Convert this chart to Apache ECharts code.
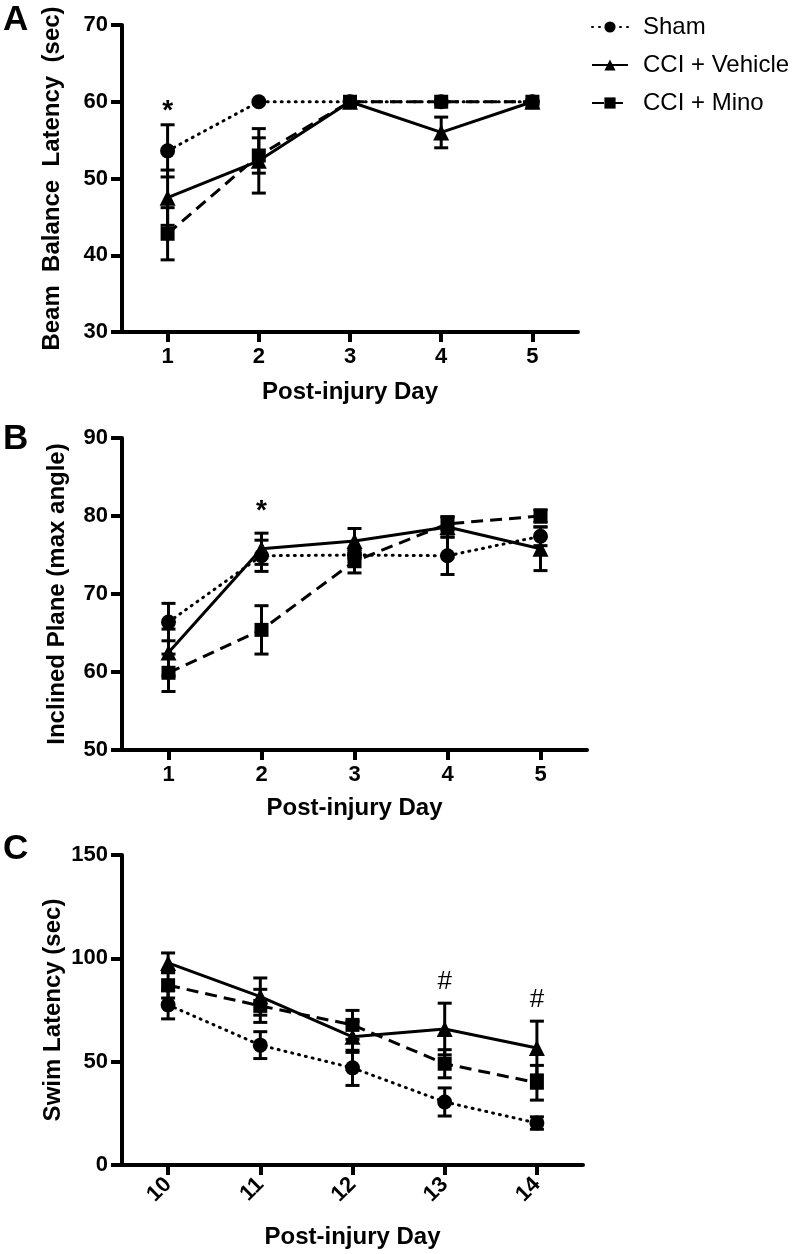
<!DOCTYPE html>
<html>
<head>
<meta charset="utf-8">
<script src="https://cdn.jsdelivr.net/npm/echarts@6/dist/echarts.min.js"></script>
<style>
html,body{margin:0;padding:0;background:#fff;}
#chart{width:792px;height:1254px;}
</style>
</head>
<body>
<div id="chart"></div>
<script>
// ---------- data ----------
const seriesNames = ['Sham', 'CCI + Vehicle', 'CCI + Mino'];

// Panel A: beam balance
const daysA = ['1', '2', '3', '4', '5'];
const shamA = [53.6, 60, 60, 60, 60];
const shamA_sem = [3.4, 0, 0, 0, 0];
const vehA = [47.5, 52.3, 60, 56, 60];
const vehA_sem = [3.6, 4.2, 0, 2.0, 0];
const minoA = [42.8, 53.0, 60, 60, 60];
const minoA_sem = [3.4, 2.3, 0, 0, 0];
const annotA = [[0, 58.8, '*']];

// Panel B: inclined plane
const daysB = ['1', '2', '3', '4', '5'];
const shamB = [66.4, 74.9, 75, 74.9, 77.4];
const shamB_sem = [2.4, 2.0, 0.5, 2.4, 1.2];
const vehB = [62.5, 75.8, 76.8, 78.6, 75.8];
const vehB_sem = [3.0, 2.0, 1.6, 1.3, 2.8];
const minoB = [59.9, 65.4, 74.2, 79.0, 80.0];
const minoB_sem = [2.4, 3.1, 1.5, 0.9, 0.8];
const annotB = [[1, 80.6, '*']];

// Panel C: swim latency
const daysC = ['10', '11', '12', '13', '14'];
const shamC = [77.5, 58.0, 47.0, 30.5, 20.3];
const shamC_sem = [6.8, 6.5, 8.5, 6.8, 3.0];
const vehC = [97.8, 81.5, 62.0, 65.8, 56.6];
const vehC_sem = [4.8, 9.0, 7.5, 12.5, 13.0];
const minoC = [87.0, 77.0, 67.8, 49.0, 39.8];
const minoC_sem = [6.2, 8.0, 7.0, 6.8, 8.4];
const annotC = [[3, 88.6, '#'], [4, 79.9, '#']];

// ---------- styling ----------
const FONT = '"Liberation Sans", Arial, Helvetica, sans-serif';
const BLACK = '#000';
const styles = {
  'Sham': { symbol: 'circle', symbolSize: 15, lineType: [1, 6], cap: 'round' },
  'CCI + Vehicle': { symbol: 'triangle', symbolSize: 16, lineType: 'solid', cap: 'butt' },
  'CCI + Mino': { symbol: 'rect', symbolSize: 14, lineType: [12, 7], cap: 'butt' }
};

const chart = echarts.init(document.getElementById('chart'), null, { renderer: 'canvas' });

const grids = [
  { left: 122, top: 25, width: 456, height: 307 },
  { left: 122, top: 438, width: 465, height: 312 },
  { left: 122, top: 855, width: 461, height: 310 }
];

function xAxisFor(idx, days, rotate, nameGap, margin) {
  return {
    type: 'category', gridIndex: idx, data: days, boundaryGap: true,
    name: 'Post-injury Day', nameLocation: 'middle', nameGap: nameGap,
    nameTextStyle: { fontFamily: FONT, fontWeight: 'bold', fontSize: 24, color: BLACK },
    axisLine: { show: true, onZero: false, lineStyle: { color: BLACK, width: 4 } },
    axisTick: { show: true, alignWithLabel: true, length: 10, lineStyle: { color: BLACK, width: 4 } },
    axisLabel: { fontFamily: FONT, fontWeight: 'bold', fontSize: 22, color: BLACK, margin: margin, rotate: rotate, interval: 0 },
    splitLine: { show: false }
  };
}
function yAxisFor(idx, name, min, max, interval, nameGap) {
  return {
    type: 'value', gridIndex: idx, min: min, max: max, interval: interval,
    name: name, nameLocation: 'middle', nameGap: nameGap, nameMoveOverlap: false,
    nameTextStyle: { fontFamily: FONT, fontWeight: 'bold', fontSize: 24, color: BLACK },
    axisLine: { show: true, lineStyle: { color: BLACK, width: 4 } },
    axisTick: { show: true, length: 11, lineStyle: { color: BLACK, width: 4 } },
    axisLabel: { fontFamily: FONT, fontWeight: 'bold', fontSize: 22, color: BLACK, margin: 14 },
    splitLine: { show: false }
  };
}

function lineSeries(idx, name, values) {
  const s = styles[name];
  return {
    type: 'line', name: name, xAxisIndex: idx, yAxisIndex: idx,
    data: values, symbol: s.symbol, symbolSize: s.symbolSize, showSymbol: true,
    lineStyle: { color: BLACK, width: 3, type: s.lineType, cap: s.cap },
    itemStyle: { color: BLACK, borderColor: BLACK, borderWidth: 0 },
    emphasis: { disabled: true }, animation: false, z: 3
  };
}

function errorSeries(idx, name, values, sems) {
  const data = [];
  values.forEach((v, i) => {
    if (sems[i] > 0) data.push([i, v - sems[i], v + sems[i]]);
  });
  return {
    type: 'custom', name: name + ' err', xAxisIndex: idx, yAxisIndex: idx,
    data: data, encode: { x: 0, y: [1, 2] }, animation: false, z: 2,
    renderItem: function (params, api) {
      const x = api.value(0);
      const lo = api.coord([x, api.value(1)]);
      const hi = api.coord([x, api.value(2)]);
      const w = 7;
      const st = { stroke: BLACK, lineWidth: 3 };
      return {
        type: 'group', children: [
          { type: 'line', shape: { x1: lo[0], y1: lo[1], x2: hi[0], y2: hi[1] }, style: st },
          { type: 'line', shape: { x1: lo[0] - w, y1: lo[1], x2: lo[0] + w, y2: lo[1] }, style: st },
          { type: 'line', shape: { x1: hi[0] - w, y1: hi[1], x2: hi[0] + w, y2: hi[1] }, style: st }
        ]
      };
    }
  };
}

function annotSeries(idx, data, bold, size) {
  return {
    type: 'custom', xAxisIndex: idx, yAxisIndex: idx, data: data,
    encode: { x: 0, y: 1 }, silent: true, animation: false, z: 5,
    renderItem: function (params, api) {
      const p = api.coord([api.value(0), api.value(1)]);
      return {
        type: 'text', x: p[0], y: p[1],
        style: {
          text: data[params.dataIndex][2], fill: BLACK,
          font: (bold ? 'bold ' : '') + size + 'px ' + FONT,
          align: 'center', verticalAlign: 'middle'
        }
      };
    }
  };
}

const panels = [
  [shamA, shamA_sem, vehA, vehA_sem, minoA, minoA_sem],
  [shamB, shamB_sem, vehB, vehB_sem, minoB, minoB_sem],
  [shamC, shamC_sem, vehC, vehC_sem, minoC, minoC_sem]
];

const series = [];
panels.forEach((p, idx) => {
  seriesNames.forEach((n, k) => {
    series.push(errorSeries(idx, n, p[2 * k], p[2 * k + 1]));
  });
  seriesNames.forEach((n, k) => {
    series.push(lineSeries(idx, n, p[2 * k]));
  });
});
series.push(annotSeries(0, annotA, true, 28));
series.push(annotSeries(1, annotB, true, 28));
series.push(annotSeries(2, annotC, false, 26));

const option = {
  backgroundColor: '#fff',
  animation: false,
  textStyle: { fontFamily: FONT },
  grid: grids,
  xAxis: [
    xAxisFor(0, daysA, 0, 48, 14),
    xAxisFor(1, daysB, 0, 46, 14),
    xAxisFor(2, daysC, 45, 60, 16)
  ],
  yAxis: [
    yAxisFor(0, 'Beam  Balance  Latency  (sec)', 30, 70, 10, 58),
    yAxisFor(1, 'Inclined Plane (max angle)', 50, 90, 10, 53),
    yAxisFor(2, 'Swim Latency (sec)', 0, 150, 50, 57)
  ],
  legend: {
    data: seriesNames, orient: 'vertical', left: 586, top: 10,
    itemWidth: 36, itemHeight: 14, itemGap: 14,
    textStyle: { fontFamily: FONT, fontSize: 24, color: BLACK, padding: [0, 0, 0, 10] },
    selectedMode: false
  },
  graphic: [
    { type: 'text', left: 3, top: 3, style: { text: 'A', font: 'bold 35px ' + FONT, fill: BLACK } },
    { type: 'text', left: 3, top: 422, style: { text: 'B', font: 'bold 35px ' + FONT, fill: BLACK } },
    { type: 'text', left: 3, top: 832, style: { text: 'C', font: 'bold 35px ' + FONT, fill: BLACK } }
  ],
  series: series
};
chart.setOption(option);
</script>
</body>
</html>
